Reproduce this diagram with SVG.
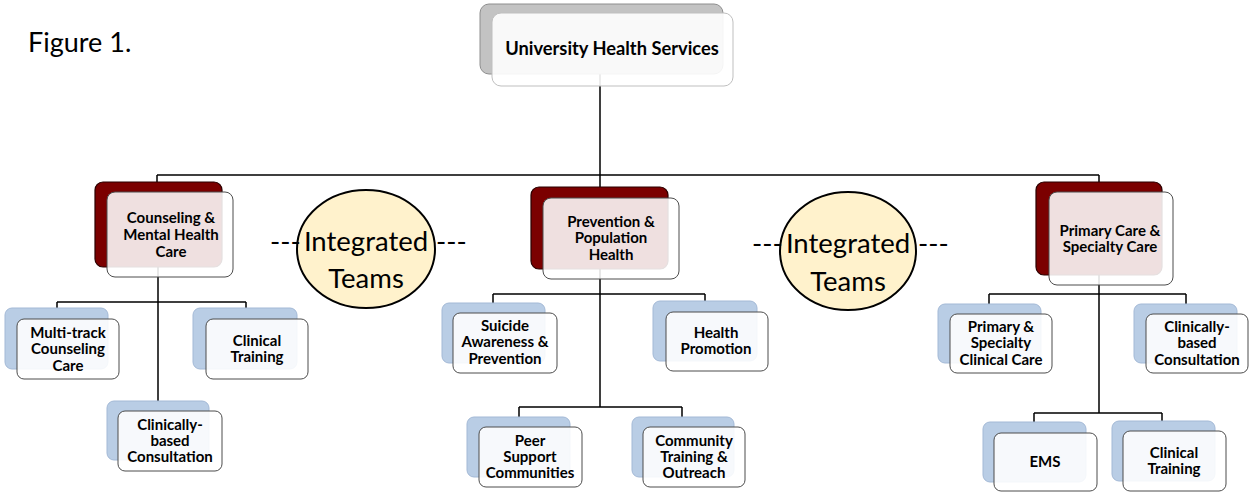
<svg xmlns="http://www.w3.org/2000/svg" width="1249" height="492" viewBox="0 0 1249 492">
  <style>
    .bg { fill: #ffffff; }
    .wire { fill: none; stroke: #000000; stroke-width: 1.5; }
    .back-top { fill: #C3C3C3; stroke: #8E8E8E; stroke-width: 1; }
    .back-main { fill: #7B0000; stroke: #2A0000; stroke-width: 1.2; }
    .back-sub { fill: #B9CDE5; stroke: #A3B9D6; stroke-width: 1; }
    .front { fill: #ffffff; fill-opacity: 0.88; stroke: #4D4D4D; stroke-width: 1; }
    .front-top { fill: #ffffff; fill-opacity: 0.9; stroke: #BFBFBF; stroke-width: 1; }
    .team { fill: #FFF2CC; stroke: #000000; stroke-width: 2; }
    .lbl { font-family: Lato, "Liberation Sans", sans-serif; font-weight: bold; font-size: 15px; fill: #000000; text-anchor: middle; }
    .lbl-top { font-size: 18.3px; }
    .team-txt { font-family: Lato, "Liberation Sans", sans-serif; font-size: 27.5px; fill: #000000; }
    .caption { font-family: Lato, "Liberation Sans", sans-serif; font-size: 27px; fill: #000000; }
  </style>

  <rect class="bg" x="0" y="0" width="1249" height="492"/>

  <text class="caption" x="28" y="52">Figure 1.</text>

  <!-- connectors (drawn first so the translucent front cards soften them) -->
  <g id="connectors">
    <path class="wire" d="M600,74 V175 M157,175 H1099 M157,175 V182 M600,175 V187 M1099,175 V182"/>
    <!-- counseling branch -->
    <path class="wire" d="M158,267 V401 M57,302 H246 M57,302 V308 M246,302 V308"/>
    <!-- prevention branch -->
    <path class="wire" d="M600,269 V407 M493,294 H705 M493,294 V303 M705,294 V301 M519,407 H682 M519,407 V417 M682,407 V417"/>
    <!-- primary care branch -->
    <path class="wire" d="M1099,275 V413 M989,294 H1186 M989,294 V304 M1186,294 V304 M1034,413 H1162 M1034,413 V422 M1162,413 V421"/>
  </g>

  <!-- root -->
  <g id="node-uhs">
    <rect class="back-top" x="480" y="4" width="243" height="70" rx="9"/>
    <rect class="front-top" x="492" y="13" width="241" height="73" rx="9"/>
    <text class="lbl lbl-top" x="612" y="55">University Health Services</text>
  </g>

  <!-- second level -->
  <g id="node-counseling">
    <rect class="back-main" x="95" y="182" width="127" height="85" rx="8"/>
    <rect class="front" x="107" y="192" width="126" height="85" rx="8"/>
    <text class="lbl" x="171" y="223">Counseling &amp;</text>
    <text class="lbl" x="171" y="240">Mental Health</text>
    <text class="lbl" x="171" y="257">Care</text>
  </g>

  <g id="node-prevention">
    <rect class="back-main" x="531" y="187" width="137" height="82" rx="8"/>
    <rect class="front" x="543" y="198" width="136" height="81" rx="8"/>
    <text class="lbl" x="611" y="227">Prevention &amp;</text>
    <text class="lbl" x="611" y="243">Population</text>
    <text class="lbl" x="611" y="260">Health</text>
  </g>

  <g id="node-primary">
    <rect class="back-main" x="1036" y="182" width="126" height="93" rx="8"/>
    <rect class="front" x="1049" y="192" width="124" height="93" rx="8"/>
    <text class="lbl" x="1110" y="236">Primary Care &amp;</text>
    <text class="lbl" x="1110" y="252">Specialty Care</text>
  </g>

  <!-- integrated teams links -->
  <g id="team-left">
    <ellipse class="team" cx="366" cy="249" rx="69" ry="59"/>
    <text class="team-txt" x="270" y="251">---</text>
    <text class="team-txt" x="366" y="251" text-anchor="middle">Integrated</text>
    <text class="team-txt" x="436" y="251">---</text>
    <text class="team-txt" x="366" y="288" text-anchor="middle">Teams</text>
  </g>

  <g id="team-right">
    <ellipse class="team" cx="848" cy="251" rx="68" ry="59"/>
    <text class="team-txt" x="752" y="253">---</text>
    <text class="team-txt" x="848" y="253" text-anchor="middle">Integrated</text>
    <text class="team-txt" x="918" y="253">---</text>
    <text class="team-txt" x="848" y="291" text-anchor="middle">Teams</text>
  </g>

  <!-- counseling children -->
  <g id="node-multitrack">
    <rect class="back-sub" x="5" y="308" width="103" height="61" rx="7"/>
    <rect class="front" x="17" y="319" width="102" height="60" rx="7"/>
    <text class="lbl" x="68" y="338">Multi-track</text>
    <text class="lbl" x="68" y="354">Counseling</text>
    <text class="lbl" x="68" y="371">Care</text>
  </g>

  <g id="node-clinical-training-1">
    <rect class="back-sub" x="193" y="308" width="104" height="61" rx="7"/>
    <rect class="front" x="206" y="319" width="102" height="60" rx="7"/>
    <text class="lbl" x="257" y="346">Clinical</text>
    <text class="lbl" x="257" y="362">Training</text>
  </g>

  <g id="node-consultation-1">
    <rect class="back-sub" x="107" y="401" width="102" height="59" rx="7"/>
    <rect class="front" x="118" y="411" width="104" height="60" rx="7"/>
    <text class="lbl" x="170" y="430">Clinically-</text>
    <text class="lbl" x="170" y="446">based</text>
    <text class="lbl" x="170" y="462">Consultation</text>
  </g>

  <!-- prevention children -->
  <g id="node-suicide">
    <rect class="back-sub" x="442" y="303" width="103" height="60" rx="7"/>
    <rect class="front" x="453" y="313" width="104" height="60" rx="7"/>
    <text class="lbl" x="505" y="331">Suicide</text>
    <text class="lbl" x="505" y="347">Awareness &amp;</text>
    <text class="lbl" x="505" y="364">Prevention</text>
  </g>

  <g id="node-health-promotion">
    <rect class="back-sub" x="653" y="301" width="104" height="60" rx="7"/>
    <rect class="front" x="666" y="312" width="102" height="59" rx="7"/>
    <text class="lbl" x="716" y="338">Health</text>
    <text class="lbl" x="716" y="354">Promotion</text>
  </g>

  <g id="node-peer">
    <rect class="back-sub" x="467" y="417" width="103" height="60" rx="7"/>
    <rect class="front" x="479" y="427" width="103" height="60" rx="7"/>
    <text class="lbl" x="530" y="446">Peer</text>
    <text class="lbl" x="530" y="462">Support</text>
    <text class="lbl" x="530" y="478">Communities</text>
  </g>

  <g id="node-community">
    <rect class="back-sub" x="632" y="417" width="102" height="60" rx="7"/>
    <rect class="front" x="643" y="427" width="102" height="60" rx="7"/>
    <text class="lbl" x="694" y="446">Community</text>
    <text class="lbl" x="694" y="462">Training &amp;</text>
    <text class="lbl" x="694" y="478">Outreach</text>
  </g>

  <!-- primary care children -->
  <g id="node-primary-specialty">
    <rect class="back-sub" x="938" y="304" width="103" height="59" rx="7"/>
    <rect class="front" x="950" y="314" width="102" height="59" rx="7"/>
    <text class="lbl" x="1001" y="332">Primary &amp;</text>
    <text class="lbl" x="1001" y="348">Specialty</text>
    <text class="lbl" x="1001" y="365">Clinical Care</text>
  </g>

  <g id="node-consultation-2">
    <rect class="back-sub" x="1134" y="304" width="103" height="59" rx="7"/>
    <rect class="front" x="1146" y="314" width="102" height="59" rx="7"/>
    <text class="lbl" x="1197" y="332">Clinically-</text>
    <text class="lbl" x="1197" y="348">based</text>
    <text class="lbl" x="1197" y="365">Consultation</text>
  </g>

  <g id="node-ems">
    <rect class="back-sub" x="983" y="422" width="103" height="60" rx="7"/>
    <rect class="front" x="994" y="433" width="103" height="58" rx="7"/>
    <text class="lbl" x="1045" y="467">EMS</text>
  </g>

  <g id="node-clinical-training-2">
    <rect class="back-sub" x="1112" y="421" width="103" height="60" rx="7"/>
    <rect class="front" x="1123" y="431" width="103" height="60" rx="7"/>
    <text class="lbl" x="1174" y="458">Clinical</text>
    <text class="lbl" x="1174" y="474">Training</text>
  </g>
</svg>
